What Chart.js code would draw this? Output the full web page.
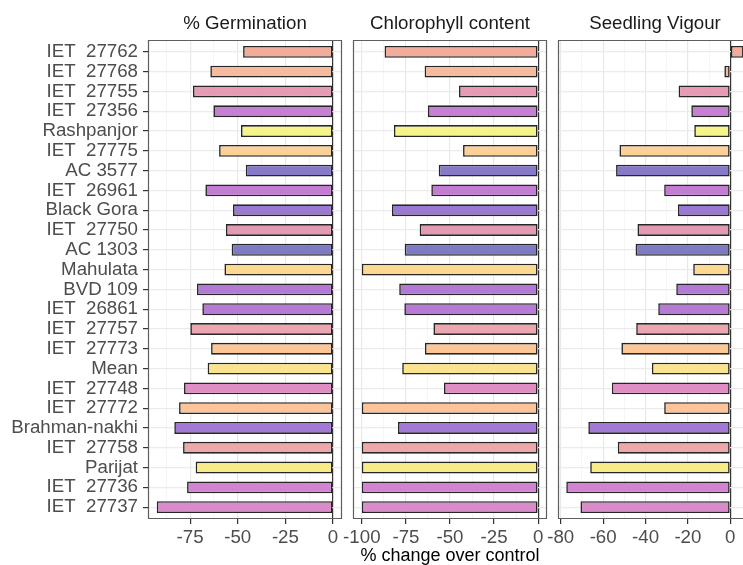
<!DOCTYPE html>
<html>
<head>
<meta charset="utf-8">
<script src="https://cdn.jsdelivr.net/npm/chart.js@4.4.1/dist/chart.umd.min.js"></script>
<style>
  html, body { margin: 0; padding: 0; background: #fff; overflow: hidden; }
  #wrap { position: relative; width: 743px; height: 565px; }
  #wrap canvas { position: absolute; left: 0; top: 0; }
</style>
</head>
<body>
<div id="wrap">
  <canvas id="germ" width="743" height="565"></canvas>
  <canvas id="chloro" width="743" height="565"></canvas>
  <canvas id="vigour" width="743" height="565"></canvas>
</div>
<script>
// genotypes, top to bottom
const genotypes = ['IET  27762', 'IET  27768', 'IET  27755', 'IET  27356', 'Rashpanjor', 'IET  27775',
  'AC 3577', 'IET  26961', 'Black Gora', 'IET  27750', 'AC 1303', 'Mahulata', 'BVD 109', 'IET  26861',
  'IET  27757', 'IET  27773', 'Mean', 'IET  27748', 'IET  27772', 'Brahman-nakhi', 'IET  27758',
  'Parijat', 'IET  27736', 'IET  27737'];

// % change over control
const germination = [-47.2, -64.4, -73.5, -62.8, -48.3, -59.8, -45.8, -67.0, -52.5, -56.2, -53.2, -57.0,
  -71.4, -68.6, -74.9, -64.0, -65.8, -78.2, -80.8, -83.3, -78.7, -72.1, -76.6, -92.5];
const chlorophyll = [-87.1, -64.4, -44.9, -62.5, -81.8, -42.6, -56.4, -60.6, -82.9, -67.2, -75.7, -100,
  -78.8, -75.9, -59.4, -64.2, -77.1, -53.4, -100, -79.5, -100, -100, -100, -100];
const vigour = [6.3, -2.8, -24.4, -18.4, -17.0, -52.3, -53.9, -31.2, -24.7, -43.8, -44.7, -17.5,
  -25.5, -34.0, -44.4, -51.4, -37.0, -55.9, -31.2, -67.0, -53.1, -66.1, -77.4, -70.7];

const barColors = ['#f2ad9a', '#f6bb9f', '#e59bb3', '#c67fd3', '#f4f48a', '#fbd197', '#8879c6', '#c27dd3',
  '#9a79d2', '#e39bb5', '#7f7bc3', '#fcd890', '#b27ad5', '#b77bd5', '#eca6af', '#fcc697', '#fae48e',
  '#df8ec4', '#fbc49b', '#a27ad6', '#eda9a9', '#f8ec8a', '#d384d0', '#da8bc9'];

Chart.defaults.font.family = '"Liberation Sans", Arial, sans-serif';
Chart.defaults.animation = false;

const stripTitle = {
  id: 'stripTitle',
  afterDraw(chart, args, opts) {
    const { ctx, chartArea } = chart;
    ctx.save();
    ctx.fillStyle = '#1a1a1a';
    ctx.font = '18.7px "Liberation Sans", Arial, sans-serif';
    ctx.textAlign = 'center';
    ctx.textBaseline = 'alphabetic';
    ctx.fillText(opts.text, chartArea.left + 97, 29);
    ctx.restore();
  }
};

const panelBox = {
  id: 'panelBox',
  afterDraw(chart, args, opts) {
    const { ctx, chartArea: a } = chart;
    ctx.save();
    ctx.strokeStyle = '#5e5e5e';
    ctx.lineWidth = 1.2;
    ctx.beginPath();
    if (opts.openRight) {
      ctx.moveTo(a.right, a.top + 0.5);
      ctx.lineTo(a.left + 0.5, a.top + 0.5);
      ctx.lineTo(a.left + 0.5, a.bottom - 0.5);
      ctx.lineTo(a.right, a.bottom - 0.5);
    } else {
      ctx.rect(a.left + 0.5, a.top + 0.5, a.right - a.left - 1, a.bottom - a.top - 1);
    }
    ctx.stroke();
    ctx.restore();
  }
};

function makePanel(id, title, values, cfg) {
  const points = values.map((v, i) => ({ x: v, y: i }));
  return new Chart(document.getElementById(id), {
    type: 'bar',
    data: {
      datasets: [{
        data: points,
        backgroundColor: barColors,
        borderColor: '#262626',
        borderWidth: 1.6,
        borderSkipped: false,
        barPercentage: 0.6,
        categoryPercentage: 1
      }]
    },
    options: {
      indexAxis: 'y',
      responsive: false,
      layout: { padding: { left: cfg.padLeft, right: cfg.padRight, top: 40, bottom: 0 } },
      scales: {
        x: {
          type: 'linear',
          min: cfg.min,
          max: cfg.max,
          afterFit: (s) => { s.height = 46; },
          border: { display: false },
          grid: {
            color: (c) => {
              const v = c.tick ? c.tick.value : 1;
              if (v === 0) return '#333';
              return Math.abs(v % cfg.major) < 1e-9 ? '#e8e8e8' : '#f3f3f3';
            },
            lineWidth: (c) => (c.tick && Math.abs(c.tick.value % cfg.major) < 1e-9 ? 1.2 : 0.8),
            tickColor: (c) => (c.tick && Math.abs(c.tick.value % cfg.major) < 1e-9 ? '#333' : 'rgba(0,0,0,0)'),
            tickLength: 5
          },
          ticks: {
            stepSize: cfg.step,
            includeBounds: false,
            autoSkip: false,
            maxRotation: 0,
            padding: 3,
            color: '#4d4d4d',
            font: { size: 18.7 },
            callback: (v) => (Math.abs(v % cfg.major) < 1e-9 ? String(v) : '')
          },
          title: {
            display: !!cfg.axisTitle,
            text: cfg.axisTitle || '',
            color: '#000',
            font: { size: 18, lineHeight: 1 },
            padding: { top: 0, bottom: 0 }
          }
        },
        y: {
          type: 'linear',
          reverse: true,
          offset: false,
          min: -0.6,
          max: 23.6,
          afterFit: (s) => { s.width = cfg.showLabels ? 148 : 0; },
          border: { display: false },
          grid: {
            offset: false,
            color: '#ebebeb',
            lineWidth: 1.2,
            drawTicks: cfg.showLabels,
            tickColor: '#333',
            tickLength: 5
          },
          ticks: {
            display: cfg.showLabels,
            stepSize: 1,
            includeBounds: false,
            autoSkip: false,
            padding: 5,
            color: '#4d4d4d',
            font: { size: 18.7 },
            callback: (v) => genotypes[v] ?? ''
          }
        }
      },
      plugins: {
        legend: { display: false },
        tooltip: { enabled: false },
        stripTitle: { text: title },
        panelBox: { openRight: !!cfg.openRight }
      }
    },
    plugins: [stripTitle, panelBox]
  });
}

makePanel('germ', '% Germination', germination,
  { min: -97.1, max: 4.7, step: 12.5, major: 25, padLeft: 0, padRight: 401, showLabels: true });
makePanel('chloro', 'Chlorophyll content', chlorophyll,
  { min: -105, max: 5, step: 12.5, major: 25, padLeft: 353, padRight: 196, showLabels: false,
    axisTitle: '% change over control' });
makePanel('vigour', 'Seedling Vigour', vigour,
  { min: -81.3, max: 6.0, step: 10, major: 20, padLeft: 558, padRight: 0, showLabels: false, openRight: true });
</script>
</body>
</html>
